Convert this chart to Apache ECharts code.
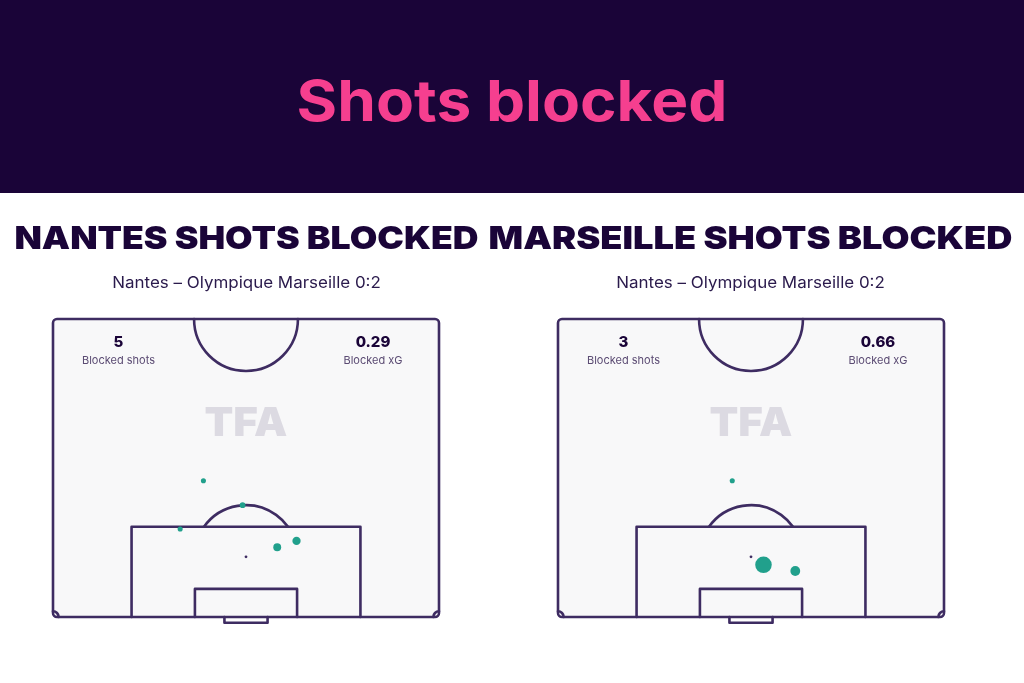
<!DOCTYPE html>
<html>
<head>
<meta charset="utf-8">
<script src="https://cdn.jsdelivr.net/npm/echarts@6/dist/echarts.min.js"></script>
<style>
html,body{margin:0;padding:0;background:#ffffff;}
#chart{width:1024px;height:683px;}
</style>
</head>
<body>
<div id="chart"></div>
<script>
// ---- data ----
const mainTitle = 'Shots blocked';
const panelTitles = ['NANTES SHOTS BLOCKED', 'MARSEILLE SHOTS BLOCKED'];
const matchLabel = 'Nantes – Olympique Marseille 0:2';
const blockedShots = ['5', '3'];
const blockedXG = ['0.29', '0.66'];
const statLabels = ['Blocked shots', 'Blocked xG'];
// [x across pitch (m), distance from goal line (m), xG]
const nantesShots = [
  [26.5, 24.0, 0.03],
  [33.4, 19.7, 0.04],
  [22.4, 15.5, 0.03],
  [39.5, 12.3, 0.09],
  [42.9, 13.4, 0.10]
];
const marseilleShots = [
  [30.7, 24.0, 0.03],
  [36.2, 9.2, 0.48],
  [41.8, 8.1, 0.15]
];
const pitchWidth = 68;
const halfLength = 52.5;

// ---- styles ----
const navy = '#1a0438';
const pink = '#f53f8f';
const lineColor = '#3e2c62';
const pitchFill = '#f8f8f9';
const dotColor = '#21a08c';
const FONT = 'Inter, "Noto Sans", sans-serif';

const chart = echarts.init(document.getElementById('chart'), null, {renderer: 'canvas'});

function renderPitch(params, api) {
  if (params.dataIndex !== 0) return;
  const p = (x, y) => api.coord([x, y]);
  const sx = api.size([1, 1])[0];
  const st = {stroke: lineColor, fill: null, lineWidth: 2.6, lineJoin: 'round', lineCap: 'round'};
  const poly = pts => ({type: 'polyline', shape: {points: pts.map(q => p(q[0], q[1]))}, style: st});
  const c = [];
  const tl = p(0, halfLength), br = p(pitchWidth, 0);
  c.push({type: 'rect', shape: {x: tl[0], y: tl[1], width: br[0] - tl[0], height: br[1] - tl[1], r: 4},
    style: {fill: pitchFill, stroke: lineColor, lineWidth: 2.6}});
  const mid = pitchWidth / 2;
  const boxD = 15.9, sixD = 4.95, spotD = 10.6, arcR = 9.1;
  const cc = p(mid, halfLength);
  c.push({type: 'arc', shape: {cx: cc[0], cy: cc[1], r: 9.15 * sx, startAngle: 0, endAngle: Math.PI, clockwise: true}, style: st});
  c.push(poly([[mid - 20.16, 0], [mid - 20.16, boxD], [mid + 20.16, boxD], [mid + 20.16, 0]]));
  c.push(poly([[mid - 9.0, 0], [mid - 9.0, sixD], [mid + 9.0, sixD], [mid + 9.0, 0]]));
  c.push(poly([[mid - 3.8, 0], [mid - 3.8, -1.0], [mid + 3.8, -1.0], [mid + 3.8, 0]]));
  const ps = p(mid, spotD);
  const a = Math.asin((boxD - spotD) / arcR);
  c.push({type: 'arc', shape: {cx: ps[0], cy: ps[1], r: arcR * sx, startAngle: -Math.PI + a, endAngle: -a, clockwise: true}, style: st});
  c.push({type: 'circle', shape: {cx: ps[0], cy: ps[1], r: 1.4}, style: {fill: lineColor}});
  const c0 = p(0, 0), c1 = p(pitchWidth, 0);
  c.push({type: 'arc', shape: {cx: c0[0], cy: c0[1], r: 1.0 * sx, startAngle: -Math.PI / 2, endAngle: 0, clockwise: true}, style: st});
  c.push({type: 'arc', shape: {cx: c1[0], cy: c1[1], r: 1.0 * sx, startAngle: -Math.PI, endAngle: -Math.PI / 2, clockwise: true}, style: st});
  // watermark
  const wm = p(mid, 34.0);
  c.push({type: 'text', x: wm[0], y: wm[1], scaleX: 1.05, style: {text: 'TFA', fill: '#dcdae2', font: '900 40px ' + FONT, align: 'center', verticalAlign: 'middle'}});
  return {type: 'group', children: c};
}

const grids = [
  {left: 53, top: 319, width: 386, height: 298},
  {left: 558, top: 319, width: 386, height: 298}
];
const shotSets = [nantesShots, marseilleShots];

const series = [];
const xAxes = [], yAxes = [];
grids.forEach((g, i) => {
  xAxes.push({type: 'value', gridIndex: i, min: 0, max: pitchWidth, show: false});
  yAxes.push({type: 'value', gridIndex: i, min: 0, max: halfLength, show: false});
  series.push({type: 'custom', xAxisIndex: i, yAxisIndex: i, data: [[0, 0]], renderItem: renderPitch, silent: true, z: 1, clip: false});
  series.push({type: 'scatter', xAxisIndex: i, yAxisIndex: i, data: shotSets[i], z: 5, silent: true,
    symbolSize: v => 1.3 + 22 * Math.sqrt(v[2]), itemStyle: {color: dotColor, opacity: 1}});
});

const graphics = [
  {type: 'rect', left: 0, top: 0, shape: {width: 1024, height: 193}, style: {fill: navy}, z: 0},
  {type: 'text', x: 512, y: 104, scaleX: 1.09, style: {text: mainTitle, fill: pink, font: '700 57px ' + FONT, align: 'center', verticalAlign: 'middle'}}
];
const centers = [246.5, 750.5];
const headScale = [1.113, 1.132];
centers.forEach((cx, i) => {
  graphics.push({type: 'text', x: cx, y: 239, scaleX: headScale[i], style: {text: panelTitles[i], fill: navy, font: '900 32px ' + FONT, align: 'center', verticalAlign: 'middle'}});
  graphics.push({type: 'text', x: cx, y: 283, scaleX: 1.06, style: {text: matchLabel, fill: '#2a1a4c', font: '400 16px ' + FONT, align: 'center', verticalAlign: 'middle'}});
  const L = grids[i].left;
  graphics.push({type: 'text', x: L + 65.5, y: 342, z: 10, style: {text: blockedShots[i], fill: navy, font: '800 15px ' + FONT, align: 'center', verticalAlign: 'middle'}});
  graphics.push({type: 'text', x: L + 65.5, y: 361, z: 10, style: {text: statLabels[0], fill: '#5b4b73', font: '400 11px ' + FONT, align: 'center', verticalAlign: 'middle'}});
  graphics.push({type: 'text', x: L + 320, y: 342, z: 10, style: {text: blockedXG[i], fill: navy, font: '800 15px ' + FONT, align: 'center', verticalAlign: 'middle'}});
  graphics.push({type: 'text', x: L + 320, y: 361, z: 10, style: {text: statLabels[1], fill: '#5b4b73', font: '400 11px ' + FONT, align: 'center', verticalAlign: 'middle'}});
});

chart.setOption({
  backgroundColor: '#ffffff',
  animation: false,
  grid: grids,
  xAxis: xAxes,
  yAxis: yAxes,
  series: series,
  graphic: {elements: graphics}
});
</script>
</body>
</html>
